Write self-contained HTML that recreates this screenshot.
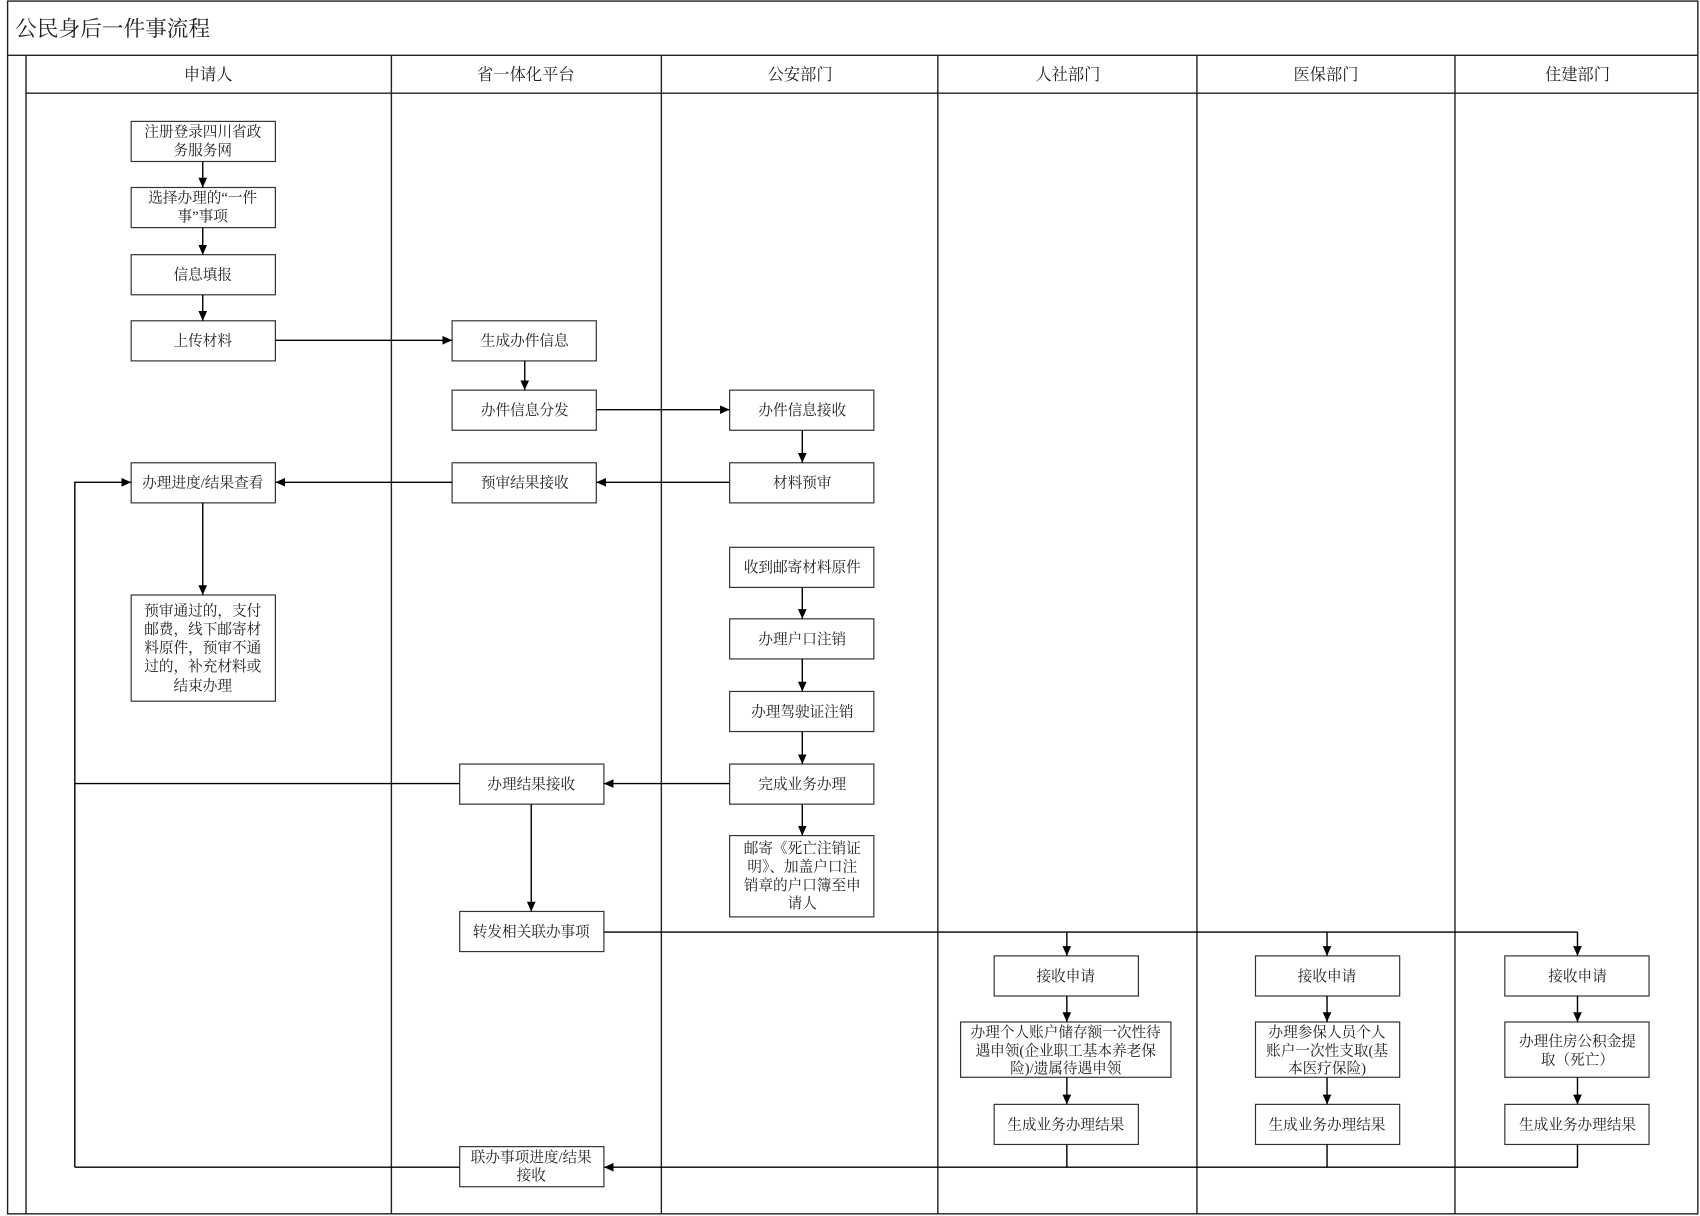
<!DOCTYPE html>
<html><head><meta charset="utf-8"><style>
html,body{margin:0;padding:0;background:#fff;}
svg{display:block;}
text{font-family:"Liberation Serif","Noto Serif CJK SC",serif;fill:#222;}
</style></head><body>
<svg width="1700" height="1216" viewBox="0 0 1568 1122" preserveAspectRatio="none" xmlns="http://www.w3.org/2000/svg">
<defs><marker id="a" markerWidth="10" markerHeight="10" refX="9" refY="5" orient="auto" markerUnits="userSpaceOnUse"><path d="M0,1 L9,5 L0,9 z" fill="#000"/></marker></defs>
<g fill="none" stroke="#222" stroke-width="1.3">
<rect x="7" y="1" width="1559" height="1119"/>
<line x1="7" y1="51" x2="1566" y2="51"/>
<line x1="24" y1="51" x2="24" y2="1120"/>
<line x1="24" y1="86" x2="1566" y2="86"/>
<line x1="361" y1="51" x2="361" y2="1120"/>
<line x1="610" y1="51" x2="610" y2="1120"/>
<line x1="865" y1="51" x2="865" y2="1120"/>
<line x1="1104" y1="51" x2="1104" y2="1120"/>
<line x1="1342" y1="51" x2="1342" y2="1120"/>
</g>
<text x="14" y="33" font-size="20">公民身后一件事流程</text>
<g font-size="15" text-anchor="middle">
<text x="192" y="74">申请人</text><text x="485" y="74">省一体化平台</text><text x="738" y="74">公安部门</text>
<text x="985" y="74">人社部门</text><text x="1223" y="74">医保部门</text><text x="1455" y="74">住建部门</text>
</g>
<g fill="#fff" stroke="#333" stroke-width="1.1">
<rect x="121" y="112" width="133" height="37"/><rect x="121" y="173" width="133" height="37"/>
<rect x="121" y="235" width="133" height="37"/><rect x="121" y="296" width="133" height="37"/>
<rect x="121" y="427" width="133" height="37"/><rect x="121" y="549" width="133" height="98"/>
<rect x="417" y="296" width="133" height="37"/><rect x="417" y="360" width="133" height="37"/>
<rect x="417" y="427" width="133" height="37"/><rect x="424" y="705" width="133" height="37"/>
<rect x="424" y="841" width="133" height="37"/><rect x="424" y="1058" width="133" height="37"/>
<rect x="673" y="360" width="133" height="37"/><rect x="673" y="427" width="133" height="37"/>
<rect x="673" y="505" width="133" height="37"/><rect x="673" y="571" width="133" height="37"/>
<rect x="673" y="638" width="133" height="37"/><rect x="673" y="705" width="133" height="37"/>
<rect x="673" y="771" width="133" height="75"/>
<rect x="917" y="882" width="133" height="37"/><rect x="886" y="943" width="194" height="51"/><rect x="917" y="1019" width="133" height="37"/>
<rect x="1158" y="882" width="133" height="37"/><rect x="1158" y="943" width="133" height="51"/><rect x="1158" y="1019" width="133" height="37"/>
<rect x="1388" y="882" width="133" height="37"/><rect x="1388" y="943" width="133" height="51"/><rect x="1388" y="1019" width="133" height="37"/>
</g>
<g font-size="13.5" text-anchor="middle">
<text x="187" y="126">注册登录四川省政</text><text x="187" y="143">务服务网</text>
<text x="187" y="187">选择办理的“一件</text><text x="187" y="204">事”事项</text>
<text x="187" y="258">信息填报</text><text x="187" y="319">上传材料</text>
<text x="187" y="450">办理进度/结果查看</text>
<text x="187" y="568">预审通过的，支付</text><text x="187" y="585">邮费，线下邮寄材</text><text x="187" y="602">料原件，预审不通</text><text x="187" y="619">过的，补充材料或</text><text x="187" y="637">结束办理</text>
<text x="484" y="319">生成办件信息</text><text x="484" y="383">办件信息分发</text><text x="484" y="450">预审结果接收</text>
<text x="490" y="728">办理结果接收</text><text x="490" y="864">转发相关联办事项</text>
<text x="490" y="1072">联办事项进度/结果</text><text x="490" y="1089">接收</text>
<text x="740" y="383">办件信息接收</text><text x="740" y="450">材料预审</text><text x="740" y="528">收到邮寄材料原件</text>
<text x="740" y="594">办理户口注销</text><text x="740" y="661">办理驾驶证注销</text><text x="740" y="728">完成业务办理</text>
<text x="740" y="787">邮寄《死亡注销证</text><text x="740" y="804">明》、加盖户口注</text><text x="740" y="821">销章的户口簿至申</text><text x="740" y="838">请人</text>
<text x="983" y="905">接收申请</text><text x="983" y="957">办理个人账户储存额一次性待</text><text x="983" y="974">遇申领(企业职工基本养老保</text><text x="983" y="990">险)/遗属待遇申领</text><text x="983" y="1042">生成业务办理结果</text>
<text x="1224" y="905">接收申请</text><text x="1224" y="957">办理参保人员个人</text><text x="1224" y="974">账户一次性支取(基</text><text x="1224" y="990">本医疗保险)</text><text x="1224" y="1042">生成业务办理结果</text>
<text x="1455" y="905">接收申请</text><text x="1455" y="965">办理住房公积金提</text><text x="1455" y="982">取（死亡）</text><text x="1455" y="1042">生成业务办理结果</text>
</g>
<g fill="none" stroke="#000" stroke-width="1.3" marker-end="url(#a)">
<line x1="187" y1="149" x2="187" y2="173"/><line x1="187" y1="210" x2="187" y2="235"/><line x1="187" y1="272" x2="187" y2="296"/>
<line x1="254" y1="314" x2="417" y2="314"/><line x1="484" y1="333" x2="484" y2="360"/>
<line x1="550" y1="378" x2="673" y2="378"/><line x1="740" y1="397" x2="740" y2="427"/>
<line x1="673" y1="445" x2="550" y2="445"/><line x1="417" y1="445" x2="254" y2="445"/>
<line x1="187" y1="464" x2="187" y2="549"/>
<polyline points="69,1077 69,445 121,445"/>
<line x1="740" y1="542" x2="740" y2="571"/><line x1="740" y1="608" x2="740" y2="638"/>
<line x1="740" y1="675" x2="740" y2="705"/><line x1="740" y1="742" x2="740" y2="771"/>
<line x1="673" y1="723" x2="557" y2="723"/><line x1="490" y1="742" x2="490" y2="841"/>
<line x1="984" y1="860" x2="984" y2="882"/><line x1="1224" y1="860" x2="1224" y2="882"/><line x1="1455" y1="860" x2="1455" y2="882"/>
<line x1="984" y1="919" x2="984" y2="943"/><line x1="984" y1="994" x2="984" y2="1019"/>
<line x1="1224" y1="919" x2="1224" y2="943"/><line x1="1224" y1="994" x2="1224" y2="1019"/>
<line x1="1455" y1="919" x2="1455" y2="943"/><line x1="1455" y1="994" x2="1455" y2="1019"/>
<polyline points="1455,1056 1455,1077 557,1077"/>
</g>
<g fill="none" stroke="#000" stroke-width="1.3">
<line x1="424" y1="723" x2="69" y2="723"/><line x1="424" y1="1077" x2="69" y2="1077"/>
<line x1="557" y1="860" x2="1455" y2="860"/>
<line x1="984" y1="1056" x2="984" y2="1077"/><line x1="1224" y1="1056" x2="1224" y2="1077"/>
</g>
</svg>
</body></html>
